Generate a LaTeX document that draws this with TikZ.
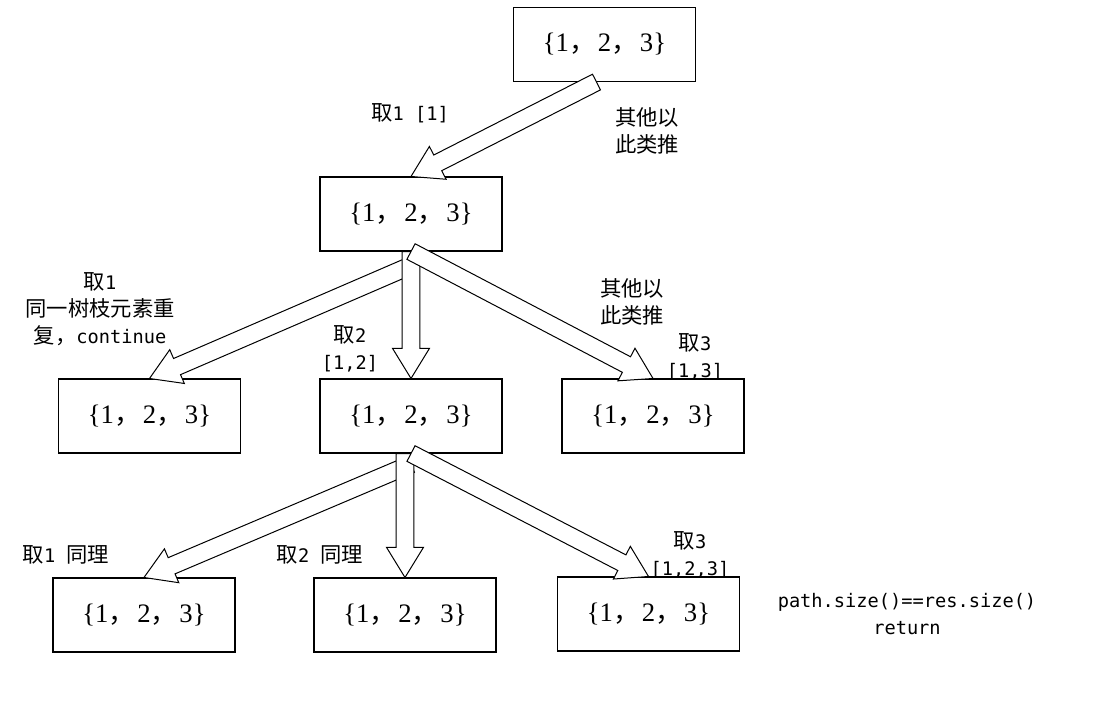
\documentclass[tikz,border=0pt]{standalone}
\usepackage{fontspec}
\setmainfont{Noto Sans CJK SC}
\newfontfamily\cjk{Noto Sans CJK SC}
\newfontfamily\mono{DejaVu Sans Mono}
\newfontfamily\tnr{Liberation Serif}
\usetikzlibrary{calc}

% latin runs in a half-width mono face
\newcommand{\en}[1]{{\mono\fontsize{14}{20}\selectfont #1}}
% the set printed in every box
\newcommand{\setof}{{\tnr\fontsize{20}{22}\selectfont\{1{\cjk，}\hspace{0.08em}2{\cjk，}\hspace{0.08em}3\}}}
% hollow block arrow from #1 (tail) to #2 (tip)
\newcommand{\blockarrow}[2]{%
  \coordinate (hb) at ($(#2)!22.5pt!(#1)$);
  \filldraw[barrow] ($(#1)!6.6pt!90:(#2)$) -- ($(hb)!6.6pt!90:(#2)$)
    -- ($(hb)!13.8pt!90:(#2)$) -- (#2) -- ($(hb)!13.8pt!-90:(#2)$)
    -- ($(hb)!6.6pt!-90:(#2)$) -- ($(#1)!6.6pt!-90:(#2)$) -- cycle;}

\begin{document}
\begin{tikzpicture}[x=0.75pt,y=-0.75pt,
  box/.style={draw,fill=white,line width=0.8pt,minimum width=136.5pt,minimum height=55.5pt,inner sep=0pt},
  barrow/.style={draw,fill=white,line width=0.75pt,line join=miter},
  lbl/.style={align=center,inner sep=0pt,font=\fontsize{16}{20.25}\selectfont}]
\useasboundingbox (0,0) rectangle (1095,718);
% boxes
\node[box] (n0) at (604.5,44.5){\setof};
\node[box] (n1) at (411,214){\setof};
\node[box] (n2a) at (149.5,416){\setof};
\node[box] (n2b) at (411,416){\setof};
\node[box] (n2c) at (653,416){\setof};
\node[box] (n3a) at (144,615){\setof};
\node[box] (n3b) at (405,615){\setof};
\node[box] (n3c) at (648.5,614){\setof};
% tails that start off the box edge
\coordinate (s0) at ([xshift=-6pt]n0.south);
\coordinate (s1) at ([yshift=-10.5pt]n1.south);
\coordinate (s2) at ([yshift=-8pt]n2b.south);
\coordinate (s3) at (n3b.north |- n2b.south);
% arrows
\blockarrow{s0}{n1.north}
\blockarrow{s1}{n2a.north}
\blockarrow{n1.south}{n2b.north}
\blockarrow{n1.south}{n2c.north}
\blockarrow{s2}{n3a.north}
\blockarrow{s3}{n3b.north}
\blockarrow{n2b.south}{n3c.north}
% labels
\node[lbl] (l1) at (410,113){取\en{1 [1]}};
\node[lbl] (l2) at (647,131){其他以\\此类推};
\node[lbl] (l3) at (100,309){取\en{1}\\同一树枝元素重\\复，\en{continue}};
\node[lbl] (l4) at (350,349){取\en{2}\\\en{[1,2]}};
\node[lbl] (l5) at (632,302){其他以\\此类推};
\node[lbl] (l6) at (695,357){取\en{3}\\\en{[1,3]}};
\node[lbl] (l7) at (66,555){取\en{1 }同理};
\node[lbl] (l8) at (320,555){取\en{2 }同理};
\node[lbl] (l9) at (690,555){取\en{3}\\\en{[1,2,3]}};
\node[lbl] (l10) at (907,614){\en{path.size()==res.size()}\\\en{return}};
\end{tikzpicture}
\end{document}
